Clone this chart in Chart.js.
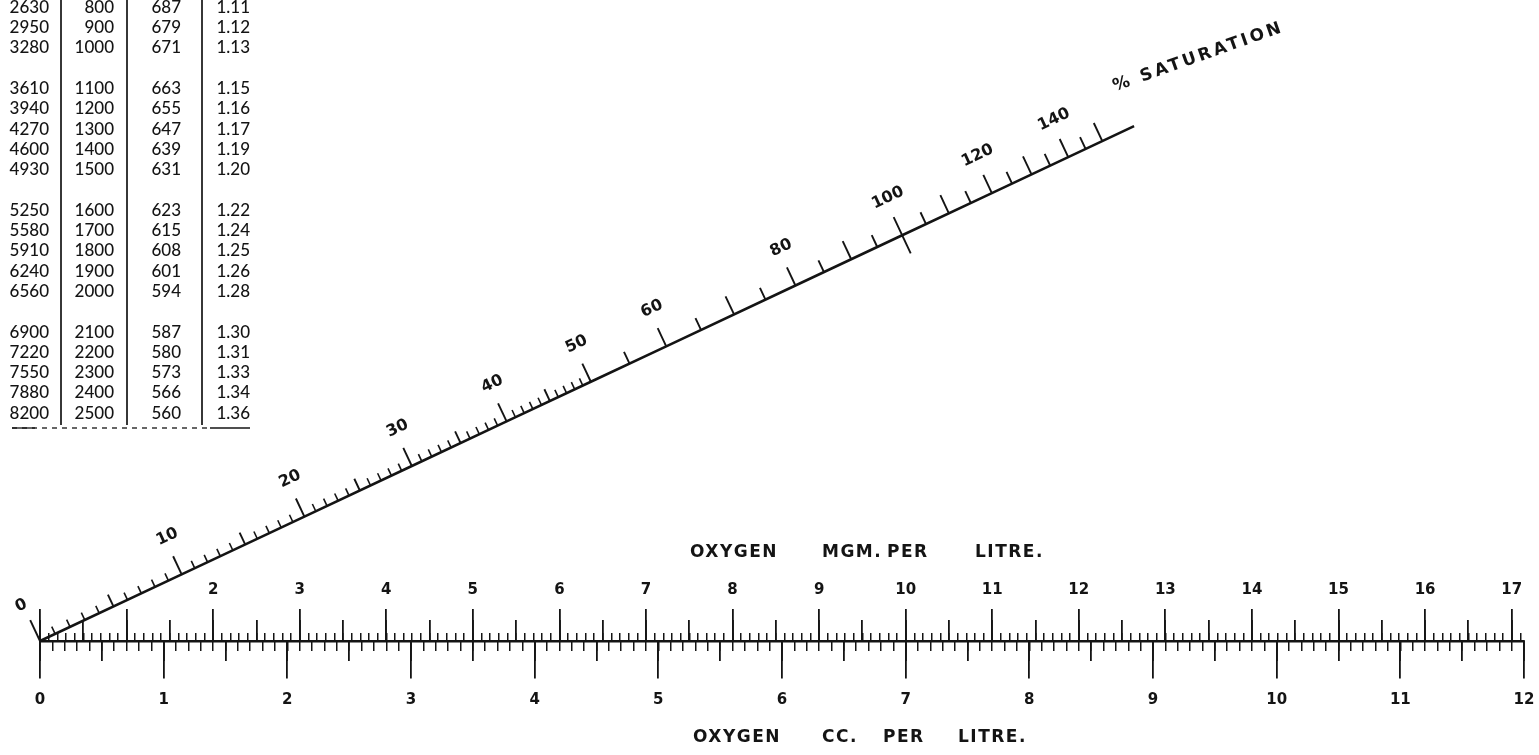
<!DOCTYPE html>
<html>
<head>
<meta charset="utf-8">
<script src="https://cdn.jsdelivr.net/npm/chart.js@4.4.1/dist/chart.umd.min.js"></script>
<style>
  html, body { margin: 0; padding: 0; background: #fff; overflow: hidden; }
  canvas { display: block; }
</style>
</head>
<body>
<canvas id="nomo" width="1539" height="755"></canvas>
<script>
// ---------------- DATA ----------------
const mgTickLabels = [2, 3, 4, 5, 6, 7, 8, 9, 10, 11, 12, 13, 14, 15, 16, 17];
const ccTickLabels = [0, 1, 2, 3, 4, 5, 6, 7, 8, 9, 10, 11, 12];
const saturationLabels = [0, 10, 20, 30, 40, 50, 60, 80, 100, 120, 140];
const CC_PER_MG = 0.7;           // 1 mg O2 = 0.7 cc O2

const altitudeFeet   = [2630, 2950, 3280, 3610, 3940, 4270, 4600, 4930, 5250, 5580, 5910, 6240, 6560, 6900, 7220, 7550, 7880, 8200];
const altitudeMetres = [800, 900, 1000, 1100, 1200, 1300, 1400, 1500, 1600, 1700, 1800, 1900, 2000, 2100, 2200, 2300, 2400, 2500];
const pressureMm     = [687, 679, 671, 663, 655, 647, 639, 631, 623, 615, 608, 601, 594, 587, 580, 573, 566, 560];
const correctionFactor = [1.11, 1.12, 1.13, 1.15, 1.16, 1.17, 1.19, 1.20, 1.22, 1.24, 1.25, 1.26, 1.28, 1.30, 1.31, 1.33, 1.34, 1.36];

const mgTitle = ['OXYGEN', 'MGM.', 'PER', 'LITRE.'];
const ccTitle = ['OXYGEN', 'CC.', 'PER', 'LITRE.'];
const saturationTitle = '% SATURATION';

// ---------------- LAYOUT / STYLE ----------------
const INK = '#141414';
const LABEL_FONT = { family: "'DejaVu Sans', sans-serif", size: 15, weight: 'bold' };
const CANVAS_W = 1539, CANVAS_H = 755;
const PAD_L = 40, PAD_R = 15;
const BASE_PX = 641;                       // pixel row of the horizontal scale line
const MG_MAX = ccTickLabels[ccTickLabels.length - 1] / CC_PER_MG;
const PX_PER_UNIT = (CANVAS_W - PAD_L - PAD_R) / MG_MAX;
const Y_MAX = BASE_PX / PX_PER_UNIT;
const Y_MIN = -(CANVAS_H - BASE_PX) / PX_PER_UNIT;
const up = px => px / PX_PER_UNIT;

// saturation (diagonal) scale: projective spacing along a slanted line
const SAT_SCALE_A = 1983 / PX_PER_UNIT;
const SAT_SCALE_B = 130;
const SAT_SLOPE = 0.4706;
const SAT_AXIS_MAX = 160;
const SAT_TITLE_ANGLE = -19.5 * Math.PI / 180;
const satX = p => SAT_SCALE_A * p / (p + SAT_SCALE_B);

const mgTitleX = [690, 822, 887, 975], MG_TITLE_Y = 553;
const ccTitleX = [693, 822, 883, 958], CC_TITLE_Y = 738;

const TABLE_Y0 = 88.5, TABLE_ROW = 20.3;
const TABLE_COLS_RIGHT = [49, 114, 181, 250];
const TABLE_RULES_X = [61, 127, 202];

function satTickValues() {
  const v = [];
  for (let p = 0; p <= 50; p += 1) v.push(p);
  for (let p = 55; p <= 150; p += 5) v.push(p);
  return v;
}

function hAxis({ min, max, step, at, len, width = 1.8, labels = null, padding = 0, border = false }) {
  return {
    type: 'linear', axis: 'x', min, max,
    position: { y: at },
    afterFit: s => { s.height = 0; s.paddingLeft = 0; s.paddingRight = 0; s.paddingTop = 0; s.paddingBottom = 0; },
    border: { display: border, color: INK, width: 2.6 },
    grid: {
      display: len > 0, drawOnChartArea: false, drawTicks: len > 0,
      tickLength: len, tickColor: INK, tickWidth: width, color: INK, lineWidth: width
    },
    ticks: {
      display: !!labels, stepSize: step, includeBounds: false, autoSkip: false,
      maxRotation: 0, minRotation: 0, padding, color: INK, font: LABEL_FONT,
      callback: v => (labels && labels.includes(Math.round(v * 10) / 10)) ? String(v) : ''
    }
  };
}

// ---------------- PLUGIN: diagonal scale, titles, table ----------------
const nomogramPlugin = {
  id: 'nomogram',
  afterDraw(chart) {
    const ctx = chart.ctx;
    const X = chart.scales.x, Y = chart.scales.y;
    const P = p => ({ x: X.getPixelForValue(satX(p)), y: Y.getPixelForValue(satX(p) * SAT_SLOPE) });
    const o = P(0), e = P(SAT_AXIS_MAX);
    const L = Math.hypot(e.x - o.x, e.y - o.y);
    const u = { x: (e.x - o.x) / L, y: (e.y - o.y) / L };
    const n = { x: u.y, y: -u.x };
    const ang = Math.atan2(u.y, u.x);

    ctx.save();
    ctx.strokeStyle = INK;
    ctx.fillStyle = INK;
    ctx.lineCap = 'butt';

    // saturation ticks
    satTickValues().forEach(p => {
      const f = P(p);
      const len = p === 0 ? 23 : (p % 10 === 0 ? 20 : (p % 5 === 0 ? 13 : 8));
      const below = p === 100 ? 20 : 0;
      ctx.lineWidth = p % 5 === 0 ? 1.9 : 1.6;
      ctx.beginPath();
      ctx.moveTo(f.x - n.x * below, f.y - n.y * below);
      ctx.lineTo(f.x + n.x * len, f.y + n.y * len);
      ctx.stroke();
    });

    // saturation labels
    ctx.font = 'bold 16px "DejaVu Sans"';
    ctx.textAlign = 'center';
    ctx.textBaseline = 'middle';
    saturationLabels.forEach(p => {
      const f = P(p);
      const along = p === 0 ? -2 : 3;
      ctx.save();
      ctx.translate(f.x + n.x * 40 + u.x * along, f.y + n.y * 40 + u.y * along);
      ctx.rotate(ang);
      ctx.fillText(String(p), 0, 0);
      ctx.restore();
    });

    // "% SATURATION"
    ctx.save();
    ctx.translate(e.x + n.x * 44 - u.x * 2, e.y + n.y * 44 - u.y * 2);
    ctx.rotate(SAT_TITLE_ANGLE);
    ctx.textAlign = 'left';
    ctx.font = 'bold 17px "DejaVu Sans"';
    ctx.letterSpacing = '3px';
    ctx.fillText(saturationTitle, 0, 0);
    ctx.restore();

    // axis titles
    ctx.font = 'bold 17px "DejaVu Sans"';
    ctx.textAlign = 'left';
    ctx.letterSpacing = '1.5px';
    mgTitle.forEach((w, i) => ctx.fillText(w, mgTitleX[i], MG_TITLE_Y));
    ccTitle.forEach((w, i) => ctx.fillText(w, ccTitleX[i], CC_TITLE_Y));
    ctx.letterSpacing = '0px';

    // altitude table
    ctx.font = '500 17px Lato';
    ctx.textAlign = 'right';
    altitudeMetres.forEach((m, i) => {
      const k = m / 100 - 11;
      const slot = k + Math.floor(k / 5);
      const y = TABLE_Y0 + slot * TABLE_ROW;
      const cells = [String(altitudeFeet[i]), String(m), String(pressureMm[i]), correctionFactor[i].toFixed(2)];
      cells.forEach((c, j) => ctx.fillText(c, TABLE_COLS_RIGHT[j], y));
    });
    ctx.lineWidth = 1.7;
    TABLE_RULES_X.forEach(x => {
      ctx.beginPath(); ctx.moveTo(x, 0); ctx.lineTo(x, 425); ctx.stroke();
    });
    ctx.lineWidth = 1.3;
    ctx.setLineDash([5, 5]);
    ctx.beginPath(); ctx.moveTo(12, 428); ctx.lineTo(208, 428); ctx.stroke();
    ctx.setLineDash([]);
    ctx.beginPath(); ctx.moveTo(12, 428); ctx.lineTo(35, 428); ctx.stroke();
    ctx.beginPath(); ctx.moveTo(210, 428); ctx.lineTo(250, 428); ctx.stroke();

    ctx.restore();
  }
};

// ---------------- CHART ----------------
const diagonalPoints = saturationLabels.concat([SAT_AXIS_MAX]).map(p => ({ x: satX(p), y: satX(p) * SAT_SLOPE }));

new Chart(document.getElementById('nomo'), {
  type: 'scatter',
  data: {
    datasets: [{
      data: diagonalPoints, showLine: true, borderColor: INK, borderWidth: 2.6,
      pointRadius: 0, clip: false, xAxisID: 'x', yAxisID: 'y'
    }]
  },
  options: {
    responsive: false,
    animation: false,
    events: [],
    layout: { padding: { left: PAD_L, right: PAD_R, top: 0, bottom: 0 } },
    plugins: { legend: { display: false }, tooltip: { enabled: false }, title: { display: false } },
    scales: {
      y: { type: 'linear', display: false, min: Y_MIN, max: Y_MAX },
      x:        hAxis({ min: 0, max: MG_MAX, step: 1,   at: up(32),   len: 32 }),
      xMgHalf:  hAxis({ min: 0, max: MG_MAX, step: 0.5, at: up(21),   len: 21 }),
      xMgTenth: hAxis({ min: 0, max: MG_MAX, step: 0.1, at: up(8),    len: 8, width: 1.5 }),
      xMgLabel: hAxis({ min: 0, max: MG_MAX, step: 1,   at: up(59.4), len: 0, labels: mgTickLabels }),
      xCc:      hAxis({ min: 0, max: 12, step: 1,   at: 0, len: 36, labels: ccTickLabels, padding: 14.6, border: true }),
      xCcHalf:  hAxis({ min: 0, max: 12, step: 0.5, at: 0, len: 20 }),
      xCcTenth: hAxis({ min: 0, max: 12, step: 0.1, at: 0, len: 10, width: 1.5 })
    }
  },
  plugins: [nomogramPlugin]
});
</script>
</body>
</html>
